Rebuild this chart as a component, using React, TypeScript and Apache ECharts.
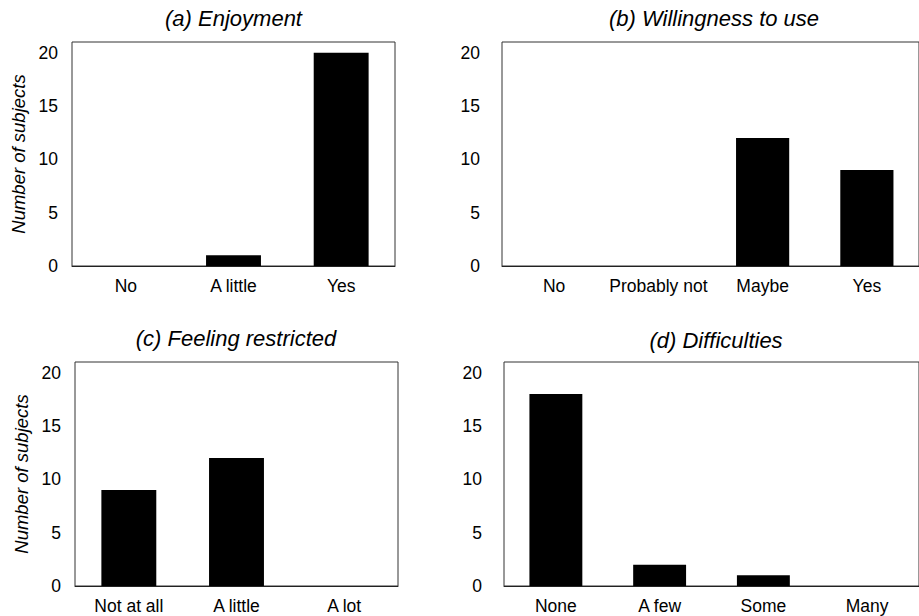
import React, { useEffect, useRef } from "react";
import * as echarts from "echarts";

const titles = ["(a) Enjoyment", "(b) Willingness to use", "(c) Feeling restricted", "(d) Difficulties"];
const catsA = ["No", "A little", "Yes"];
const valsA = [0, 1, 20];
const catsB = ["No", "Probably not", "Maybe", "Yes"];
const valsB = [0, 0, 12, 9];
const catsC = ["Not at all", "A little", "A lot"];
const valsC = [9, 12, 0];
const catsD = ["None", "A few", "Some", "Many"];
const valsD = [18, 2, 1, 0];
const yTicks = [0, 5, 10, 15, 20];
const yName = "Number of subjects";

const FONT = '"Liberation Sans", Arial, Helvetica, sans-serif';

export default function App() {
  const ref = useRef<HTMLDivElement>(null);
  useEffect(() => {
    if (!ref.current) return;
    const chart = echarts.init(ref.current, null, { renderer: "svg" });
    const grids = [
      { left: 72, top: 42, width: 323, height: 224 },
      { left: 502, top: 42, width: 424, height: 224 },
      { left: 75, top: 362, width: 323, height: 224 },
      { left: 504, top: 362, width: 424, height: 224 },
    ].map((g) => ({ ...g, show: true, borderColor: "#333", borderWidth: 1, backgroundColor: "transparent" }));
    const cats = [catsA, catsB, catsC, catsD];
    const vals = [valsA, valsB, valsC, valsD];
    const titlePos = [
      [233.5, 18],
      [714, 18],
      [236, 338.5],
      [716, 340],
    ];
    const option: any = {
      animation: false,
      backgroundColor: "#fff",
      grid: grids,
      xAxis: cats.map((c, i) => ({
        type: "category",
        gridIndex: i,
        data: c,
        axisTick: { show: false },
        axisLine: { show: true, lineStyle: { color: "#222", width: 1 } },
        axisLabel: { color: "#000", fontSize: 17.5, fontFamily: FONT, margin: 11, interval: 0 },
        splitLine: { show: false },
      })),
      yAxis: cats.map((c, i) => ({
        type: "value",
        gridIndex: i,
        min: 0,
        max: 21,
        interval: 5,
        axisTick: { show: false },
        axisLine: { show: false },
        splitLine: { show: false },
        axisLabel: {
          color: "#000",
          fontSize: 17.5,
          fontFamily: FONT,
          margin: i % 2 === 0 ? 14 : 22,
          formatter: (v: number) => (yTicks.indexOf(v) >= 0 ? String(v) : ""),
        },
        name: i % 2 === 0 ? yName : "",
        nameLocation: "middle",
        nameRotate: 90,
        nameGap: 44,
        nameTextStyle: { color: "#000", fontSize: 18.5, fontStyle: "italic", fontFamily: FONT },
      })),
      series: vals.map((v, i) => ({
        type: "bar",
        xAxisIndex: i,
        yAxisIndex: i,
        data: v,
        barWidth: "51%",
        itemStyle: { color: "#000" },
      })),
      graphic: titles.map((t, i) => ({
        type: "text",
        x: titlePos[i][0],
        y: titlePos[i][1],
        style: {
          text: t,
          fill: "#000",
          fontSize: 22,
          fontStyle: "italic",
          fontFamily: FONT,
          align: "center",
          verticalAlign: "middle",
        },
      })),
    };
    chart.setOption(option);
    return () => chart.dispose();
  }, []);
  return <div ref={ref} style={{ position: "fixed", left: 0, top: 0, width: 919, height: 616 }} />;
}
